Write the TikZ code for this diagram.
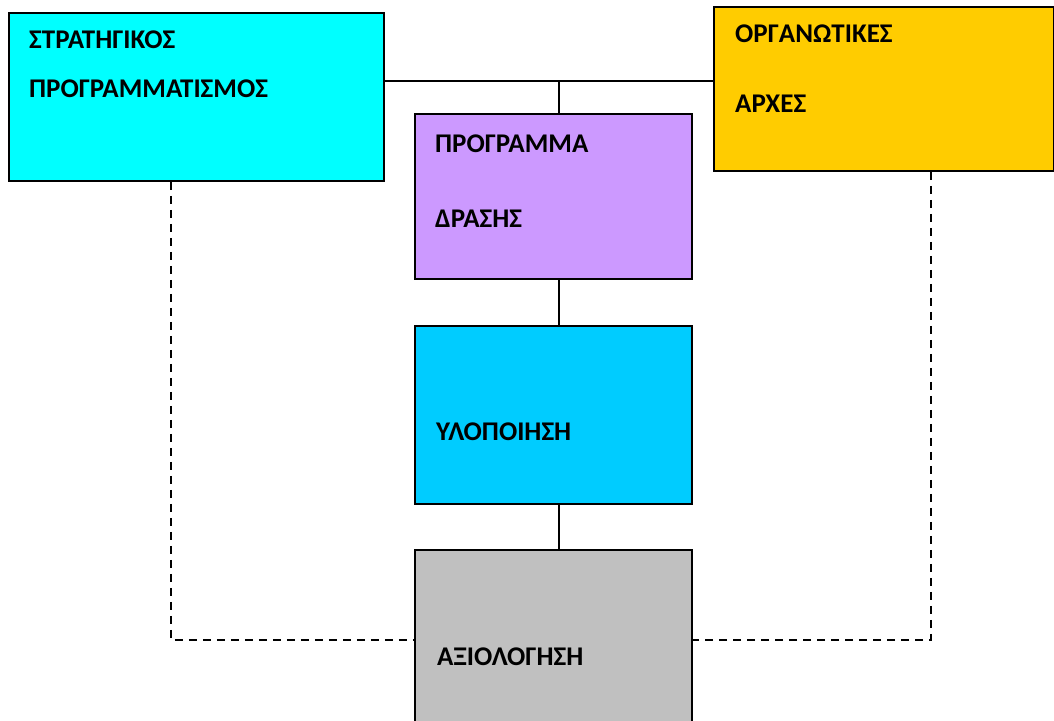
\documentclass[tikz,border=0pt]{standalone}
\usepackage{fontspec}
\setmainfont{Carlito}[BoldFont=Carlito Bold]
\begin{document}
\begin{tikzpicture}[x=1pt,y=-1pt,
  box/.style={draw=black, line width=1.9pt, anchor=north west, inner sep=0pt},
  lbl/.style={anchor=base west, inner sep=0pt, font=\bfseries\fontsize{27}{31}\selectfont},
  conn/.style={line width=1.8pt},
  dconn/.style={line width=1.6pt, dash pattern=on 8pt off 6pt}]
\useasboundingbox (0,0) rectangle (1054,720);
\definecolor{cyanbox}{HTML}{00FFFF}
\definecolor{purplebox}{HTML}{CC99FF}
\definecolor{orangebox}{HTML}{FFCC00}
\definecolor{bluebox}{HTML}{00CCFF}
\definecolor{graybox}{HTML}{C0C0C0}
% boxes
\node[box, fill=cyanbox, minimum width=375, minimum height=168] (strat) at (8,12) {};
\node[box, fill=orangebox, minimum width=340, minimum height=164] (org) at (713,6) {};
\node[box, fill=purplebox, minimum width=277, minimum height=165] (prog) at (414,113) {};
\node[box, fill=bluebox, minimum width=277, minimum height=178] (impl) at (414,325) {};
\node[box, fill=graybox, minimum width=277, minimum height=180] (eval) at (414,549) {};
% labels
\node[lbl] (t1) at (29,48) {ΣΤΡΑΤΗΓΙΚΟΣ};
\node[lbl] (t2) at (29,97) {ΠΡΟΓΡΑΜΜΑΤΙΣΜΟΣ};
\node[lbl] (t3) at (735,42) {ΟΡΓΑΝΩΤΙΚΕΣ};
\node[lbl] (t4) at (735,112) {ΑΡΧΕΣ};
\node[lbl] (t5) at (435,152) {ΠΡΟΓΡΑΜΜΑ};
\node[lbl] (t6) at (435,227) {ΔΡΑΣΗΣ};
\node[lbl] (t7) at (436,440) {ΥΛΟΠΟΙΗΣΗ};
\node[lbl] (t8) at (437,665) {ΑΞΙΟΛΟΓΗΣΗ};
% connectors
\coordinate (hl) at (559,81);
\coordinate (dl) at (171,640);
\coordinate (dr) at (931,640);
\draw[conn] (hl -| strat.east) -- (hl -| org.west);
\draw[conn] (hl) -- (hl |- prog.north);
\draw[conn] (hl |- prog.south) -- (hl |- impl.north);
\draw[conn] (hl |- impl.south) -- (hl |- eval.north);
\draw[dconn] (dl |- strat.south) -- (dl) -- (dl -| eval.west);
\draw[dconn] (dr |- org.south) -- (dr) -- (dr -| eval.east);
\end{tikzpicture}
\end{document}
